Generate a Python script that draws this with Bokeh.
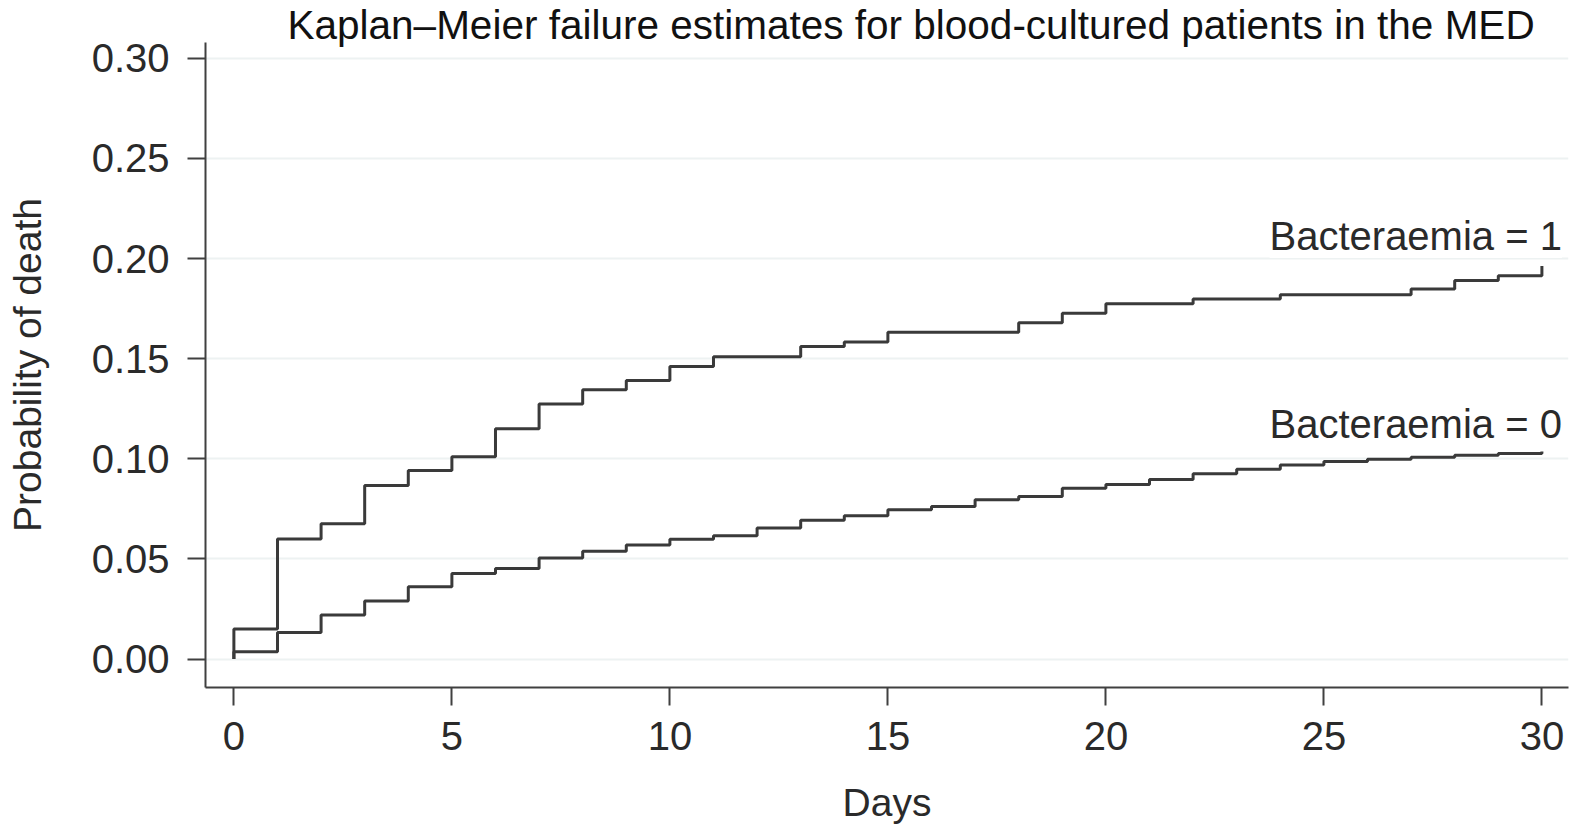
from bokeh.plotting import figure
from bokeh.models import FixedTicker, Range1d, Label
from bokeh.embed import file_html
from bokeh.resources import INLINE

# ---- data ----
days = list(range(0, 31))
bact1 = [0.0150, 0.0600, 0.0676, 0.0866, 0.0941, 0.1010, 0.1150, 0.1273,
         0.1345, 0.1391, 0.1461, 0.1510, 0.1510, 0.1561, 0.1583, 0.1632,
         0.1632, 0.1632, 0.1679, 0.1727, 0.1774, 0.1774, 0.1798, 0.1798,
         0.1819, 0.1819, 0.1819, 0.1848, 0.1890, 0.1914, 0.1963]
bact0 = [0.0036, 0.0133, 0.0220, 0.0290, 0.0361, 0.0427, 0.0452, 0.0505,
         0.0538, 0.0570, 0.0598, 0.0616, 0.0655, 0.0693, 0.0716, 0.0746,
         0.0762, 0.0795, 0.0812, 0.0853, 0.0872, 0.0897, 0.0925, 0.0948,
         0.0969, 0.0986, 0.0998, 0.1008, 0.1018, 0.1027, 0.1036]
series_labels = ["Bacteraemia = 1", "Bacteraemia = 0"]
x_ticks = [0, 5, 10, 15, 20, 25, 30]
y_ticks = [0.00, 0.05, 0.10, 0.15, 0.20, 0.25, 0.30]
y_tick_labels = ["0.00", "0.05", "0.10", "0.15", "0.20", "0.25", "0.30"]
title_text = "Kaplan\u2013Meier failure estimates for blood-cultured patients in the MED"
x_label = "Days"
y_label = "Probability of death"

# ---- style ----
FONT = "Liberation Sans"
FS = "40px"
LINE = "#3a3a3a"
AXIS = "#404040"
TEXT = "#2a2a2a"

p = figure(width=1580, height=826, output_backend="svg", toolbar_location=None,
           x_range=Range1d(-0.651, 30.61), y_range=Range1d(-0.01421, 0.30788),
           min_border_left=205, min_border_right=12, min_border_top=42,
           min_border_bottom=138)
p.outline_line_color = None
p.background_fill_color = "white"
p.border_fill_color = "white"

# title
p.title.text = title_text
p.title.text_font = FONT
p.title.text_font_size = "40.5px"
p.title.text_font_style = "normal"
p.title.text_color = "#111111"
p.title.align = "left"
p.title.offset = 82
p.title.vertical_align = "bottom"
if "standoff" in p.title.properties():
    p.title.standoff = -10

# grid
p.xgrid.grid_line_color = None
p.ygrid.grid_line_color = "#edf2f2"
p.ygrid.grid_line_width = 2

# axes
for ax in (p.xaxis[0], p.yaxis[0]):
    ax.axis_line_color = AXIS
    ax.axis_line_width = 2
    ax.major_tick_line_color = AXIS
    ax.major_tick_line_width = 2
    ax.major_tick_in = 0
    ax.major_tick_out = 18
    ax.minor_tick_line_color = None
    ax.major_label_text_font = FONT
    ax.major_label_text_font_size = FS
    ax.major_label_text_color = TEXT
    ax.axis_label_text_font = FONT
    ax.axis_label_text_font_size = "39px"
    ax.axis_label_text_font_style = "normal"
    ax.axis_label_text_color = TEXT

p.xaxis.ticker = FixedTicker(ticks=x_ticks)
p.yaxis.ticker = FixedTicker(ticks=y_ticks)
p.yaxis.major_label_overrides = {t: s for t, s in zip(y_ticks, y_tick_labels)}
p.yaxis.major_label_orientation = "horizontal"
p.xaxis.axis_label = x_label
p.yaxis.axis_label = y_label
p.xaxis.major_label_standoff = 16
p.xaxis.axis_label_standoff = 28
p.yaxis.major_label_standoff = 18
p.yaxis.axis_label_standoff = 40

# curves
for vals in (bact1, bact0):
    p.step([days[0]] + days, [0.0] + vals, mode="after",
           line_color=LINE, line_width=3)

# curve labels (white box only behind the upper one, which sits on a grid line)
for vals, txt, off, bg in ((bact1, series_labels[0], 30, "white"),
                           (bact0, series_labels[1], 28, None)):
    p.add_layout(Label(x=days[-1], y=vals[-1], text=txt, text_align="right",
                       text_baseline="alphabetic", x_offset=20, y_offset=off,
                       text_font=FONT, text_font_size=FS, text_color=TEXT,
                       background_fill_color=bg))

open("out.html", "w").write(file_html(p, INLINE))
